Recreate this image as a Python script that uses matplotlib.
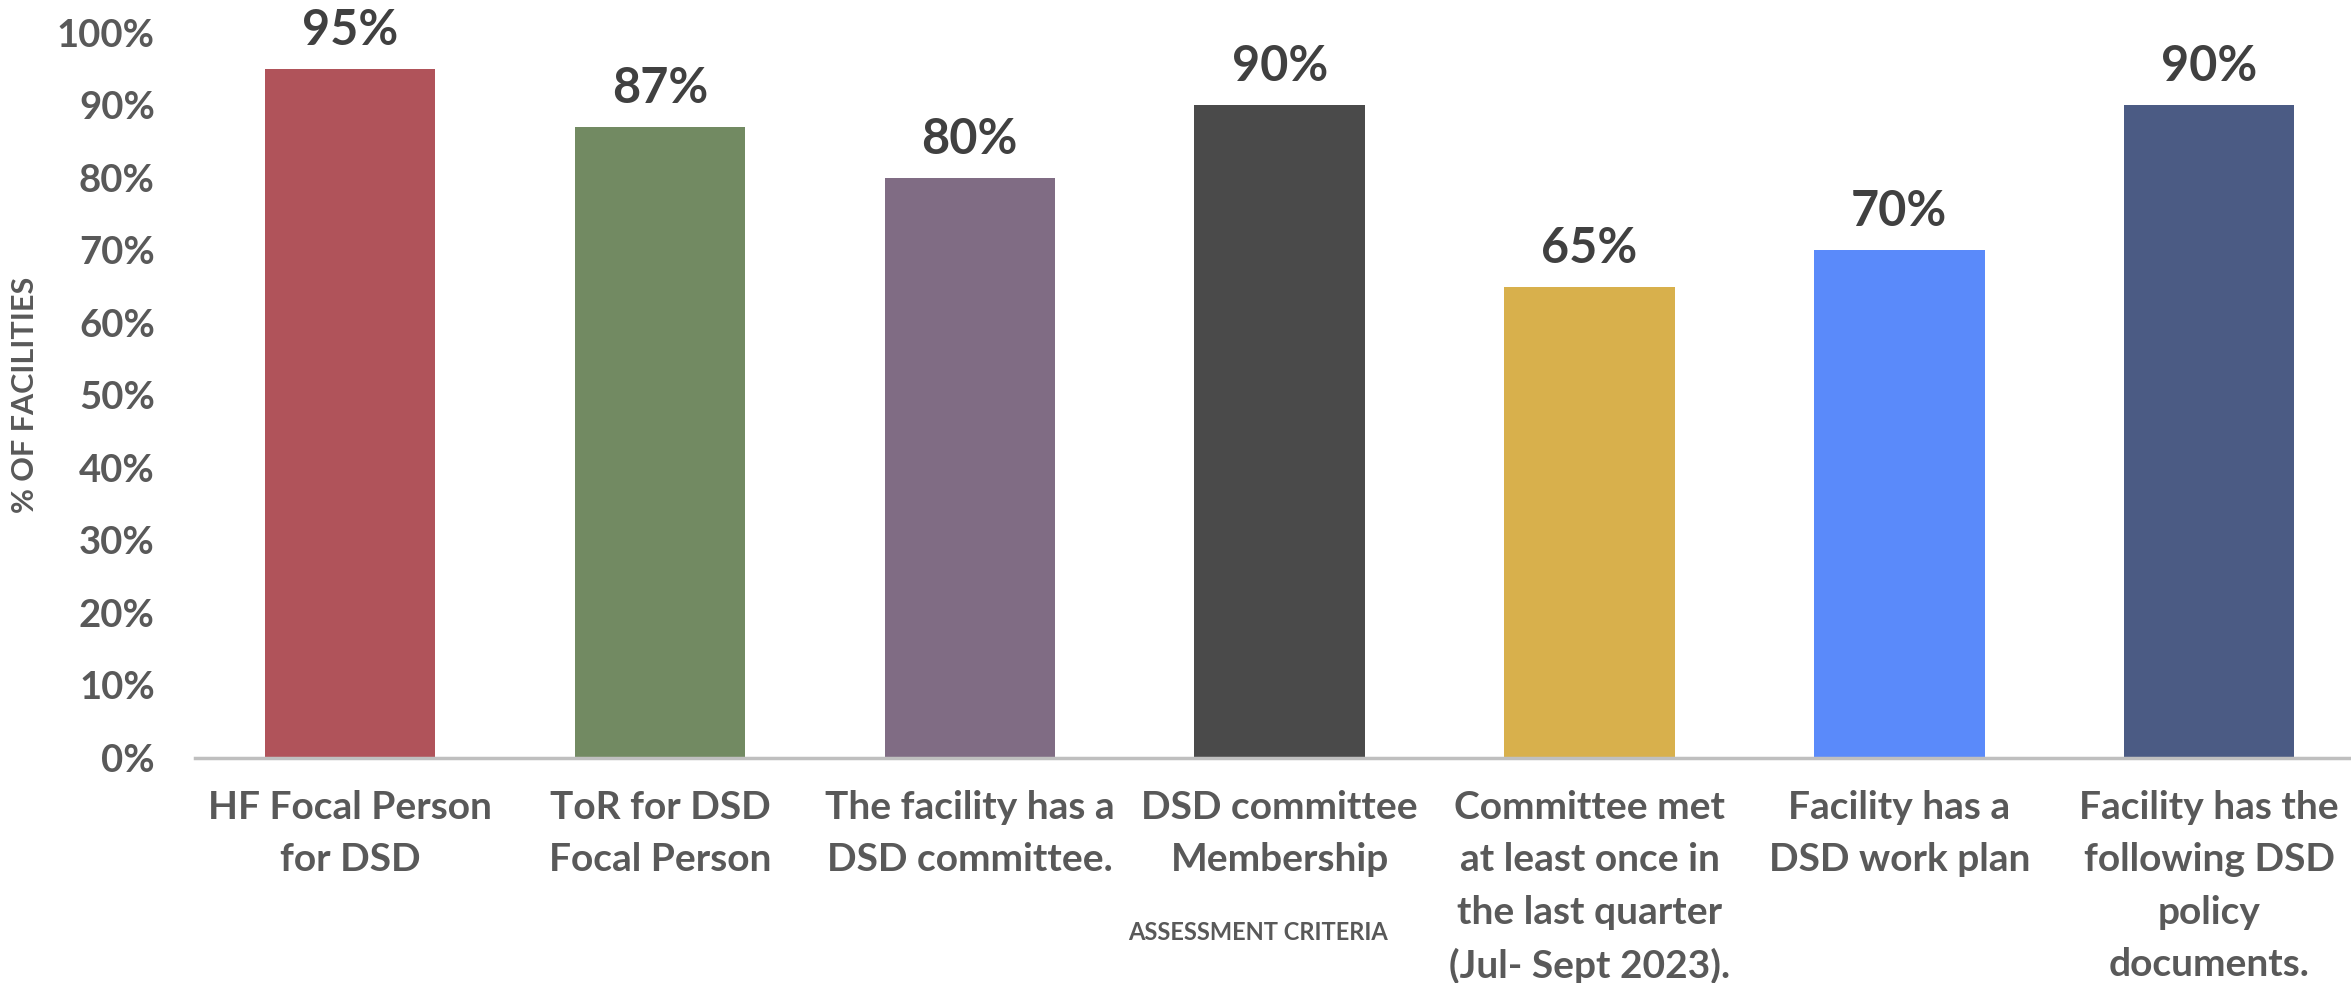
import matplotlib
matplotlib.use("Agg")
import matplotlib.pyplot as plt
from matplotlib.ticker import PercentFormatter

criteria = [
    "HF Focal Person\nfor DSD",
    "ToR for DSD\nFocal Person",
    "The facility has a\nDSD committee.",
    "DSD committee\nMembership",
    "Committee met\nat least once in\nthe last quarter\n(Jul- Sept 2023).",
    "Facility has a\nDSD work plan",
    "Facility has the\nfollowing DSD\npolicy\ndocuments.",
]
values = [95, 87, 80, 90, 65, 70, 90]
colors = ["#B0535A", "#728A62", "#806C84", "#4A4A4A", "#D8B04C", "#5A8AFA", "#4B5B84"]
yticks = list(range(0, 101, 10))

plt.rcParams['font.family'] = ['Lato', 'DejaVu Sans']

fig = plt.figure(figsize=(23.51, 9.83), dpi=100)
ax = fig.add_axes([0.083, 0.229, 0.9226, 0.7376])

x = list(range(len(values)))
bars = ax.bar(x, values, width=0.55, color=colors, zorder=2)

for b, v in zip(bars, values):
    ax.text(b.get_x() + b.get_width() / 2, v + 2.2, f"{v}%", ha="center", va="bottom",
            fontsize=35, fontweight="bold", color="#404040")

ax.set_xlim(-0.5, len(values) - 0.5)
ax.set_ylim(0, 100)
ax.set_yticks(yticks)
ax.yaxis.set_major_formatter(PercentFormatter(decimals=0))
ax.set_xticks(x)
ax.set_xticklabels(criteria, linespacing=1.6)

ax.tick_params(axis="y", length=0, pad=29, labelsize=27.5, labelcolor="#595959")
ax.tick_params(axis="x", length=0, pad=23, labelsize=28, labelcolor="#595959")
for lbl in ax.get_xticklabels() + ax.get_yticklabels():
    lbl.set_fontweight("bold")

for s in ["top", "right", "left"]:
    ax.spines[s].set_visible(False)
ax.spines["bottom"].set_color("#BFBFBF")
ax.spines["bottom"].set_linewidth(2.5)

ax.set_ylabel("% OF FACILITIES", fontsize=22, fontweight="bold", color="#595959")
ax.yaxis.set_label_coords(-0.072, 0.5)
ax.set_xlabel("ASSESSMENT CRITERIA", fontsize=17, fontweight="bold", color="#595959")
ax.xaxis.set_label_coords(0.49, -0.225)

fig.savefig("out.png", dpi=100)
